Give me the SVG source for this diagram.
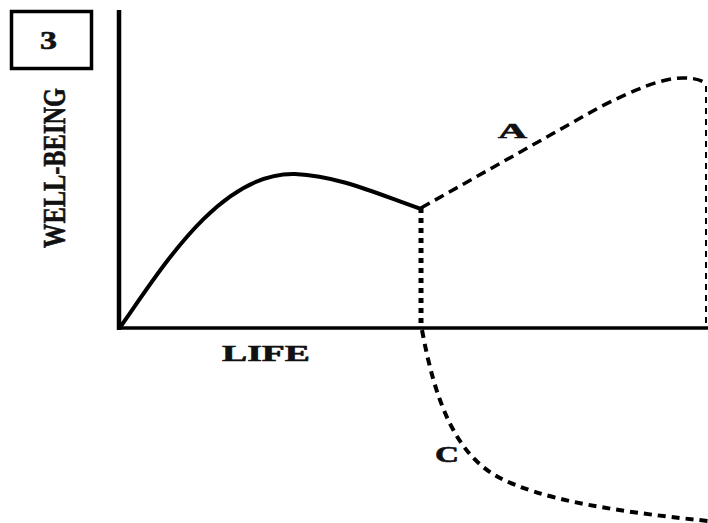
<svg xmlns="http://www.w3.org/2000/svg" width="708" height="523" viewBox="0 0 708 523">
<style>
.t{font-family:"Liberation Serif","Times New Roman",serif;font-weight:bold;fill:#111;stroke:#111;stroke-width:0.6}
.ax{stroke:#000;fill:none}
.ln{fill:none;stroke:#000}
</style>
<rect width="708" height="523" fill="#fff"/>
<g id="label-box">
<rect x="11.5" y="11.5" width="80" height="57" fill="none" stroke="#000" stroke-width="3.5"/>
<text class="t" x="40" y="48.5" font-size="25" textLength="17" lengthAdjust="spacingAndGlyphs">3</text>
</g>
<g id="axes">
<line class="ax" x1="119" y1="10" x2="119" y2="330" stroke-width="4.5"/>
<line class="ax" x1="117" y1="328" x2="708" y2="328" stroke-width="3.5"/>
<text class="t" transform="translate(65,168) rotate(-90)" x="0" y="0" font-size="31" text-anchor="middle" textLength="160" lengthAdjust="spacingAndGlyphs">WELL-BEING</text>
<text class="t" x="222" y="360.5" font-size="23" textLength="88" lengthAdjust="spacingAndGlyphs">LIFE</text>
</g>
<g id="connectors">
<path id="life-curve" class="ln" stroke-width="4" d="M121,326 C162,268 220,172 295,174 C340,176 380,195 421,209"/>
<path id="path-a" class="ln" stroke-width="3.5" stroke-dasharray="10 6" d="M421,208 L600,107 C630,92 660,78 683,78 C695,78 702,80 706,84"/>
<line id="right-edge" class="ln" x1="706" y1="86" x2="706" y2="328" stroke-width="2" stroke-dasharray="6 5"/>
<line id="drop" class="ln" x1="421" y1="208" x2="421" y2="326" stroke-width="5" stroke-dasharray="5 5"/>
<path id="path-c" class="ln" stroke-width="4" stroke-dasharray="8 6" d="M422,330 C435,400 455,455 500,478 C540,498 600,510 708,521"/>
</g>
<g id="labels">
<text class="t" x="498" y="138" font-size="20" textLength="29" lengthAdjust="spacingAndGlyphs">A</text>
<text class="t" x="435" y="462" font-size="23" textLength="24" lengthAdjust="spacingAndGlyphs">C</text>
</g>
</svg>
